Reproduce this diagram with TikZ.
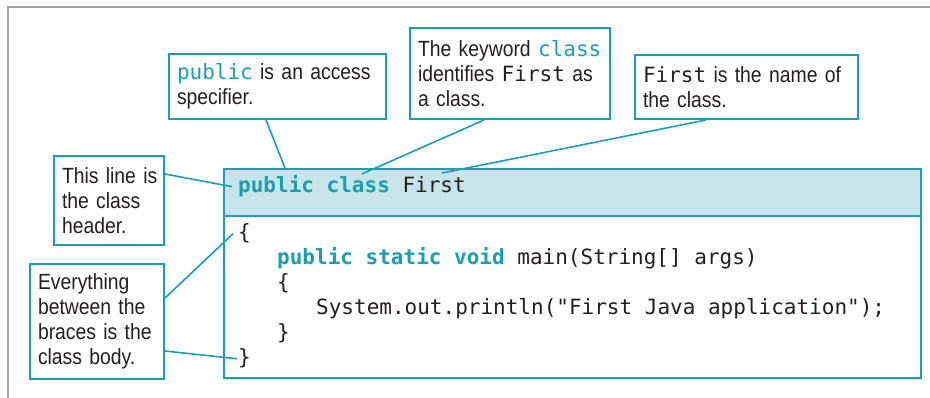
\documentclass[tikz,border=0pt]{standalone}
\usepackage{fontspec}
\setmonofont{DejaVu Sans Mono}
\newfontfamily\notefamily[FakeStretch=0.88]{Liberation Sans}
\definecolor{jteal}{HTML}{1A9FAD}
\definecolor{hdrfill}{HTML}{C6E4E9}
\definecolor{inkdark}{HTML}{231F20}
\definecolor{framegray}{HTML}{A3A3A3}
\newcommand{\notefont}{\notefamily\fontsize{22}{25}\selectfont}
\newcommand{\codefont}{\ttfamily\fontsize{21}{25}\selectfont}
\newcommand{\kw}[1]{{\ttfamily\fontsize{21}{25}\selectfont\color{jteal}#1}}
\newcommand{\cd}[1]{{\ttfamily\fontsize{21}{25}\selectfont #1}}
\newcommand{\kwb}[1]{{\bfseries\color{jteal}#1}}

\begin{document}
\begin{tikzpicture}[x=1pt,y=-1pt,
    callout/.style={draw=jteal, line width=2pt, fill=white, anchor=north west,
        align=left, inner xsep=8pt, inner ysep=0pt, font=\notefont, text=inkdark},
    codeband/.style={draw=jteal, line width=2pt, anchor=north west, inner sep=0pt,
        minimum width=697pt},
    codeline/.style={anchor=base west, inner sep=0pt, font=\codefont, text=inkdark},
    lead/.style={draw=jteal, line width=1.6pt}]
        \useasboundingbox (0,0) rectangle (930,398);
        \draw[framegray, line width=2pt] (7.5,398) -- (7.5,7) -- (930,7);

        \node[codeband, fill=hdrfill, minimum height=47pt] (hdrband) at (223,168) {};
        \node[codeband, fill=white, minimum height=162pt] (bodyband) at (223,215) {};

        \node[codeline] (l0) at (238,193) {\kwb{public class} First};
        \node[codeline] (l1) at (238,240) {\{};
        \node[codeline] (l2) at (277,265) {\kwb{public static void} main(String[] args)};
        \node[codeline] (l3) at (277,290) {\{};
        \node[codeline] (l4) at (316,315) {System.out.println("First Java application");};
        \node[codeline] (l5) at (277,340) {\}};
        \node[codeline] (l6) at (238,365) {\}};

        \node[callout, text width=201pt, minimum height=65pt] (access) at (168,53)
            {\kw{public} is an access\\specifier.};
        \node[callout, text width=184pt, minimum height=91pt] (keyword) at (409,27)
            {The keyword \kw{class}\\identifies \cd{First} as\\a class.};
        \node[callout, text width=207pt, minimum height=64pt] (classname) at (634,54)
            {\cd{First} is the name of\\the class.};
        \node[callout, text width=94pt, minimum height=89pt] (headernote) at (53,155)
            {\mbox{This line is}\\the class\\header.};
        \node[callout, text width=118pt, minimum height=115pt] (bodynote) at (29,263)
            {Everything\\between the\\\mbox{braces is the}\\class body.};

        \coordinate (pubtip)   at (285,168);
        \coordinate (clstip)   at (362,174);
        \coordinate (firsttip) at (442,173);

        \draw[lead] ([xshift=-11.5pt]access.south) -- (pubtip);
        \draw[lead] ([xshift=-26pt]keyword.south) -- (clstip);
        \draw[lead] ([xshift=-40.5pt]classname.south) -- (firsttip);
        \draw[lead] ([yshift=26.5pt]headernote.east) -- ([xshift=-6pt]l0.west);
        \draw[lead] ([yshift=23.5pt]bodynote.east) -- ([xshift=-5pt]l1.west);
        \draw[lead] ([yshift=-29.5pt]bodynote.east) -- ([xshift=-1pt]l6.west);
    \end{tikzpicture}
\end{document}
